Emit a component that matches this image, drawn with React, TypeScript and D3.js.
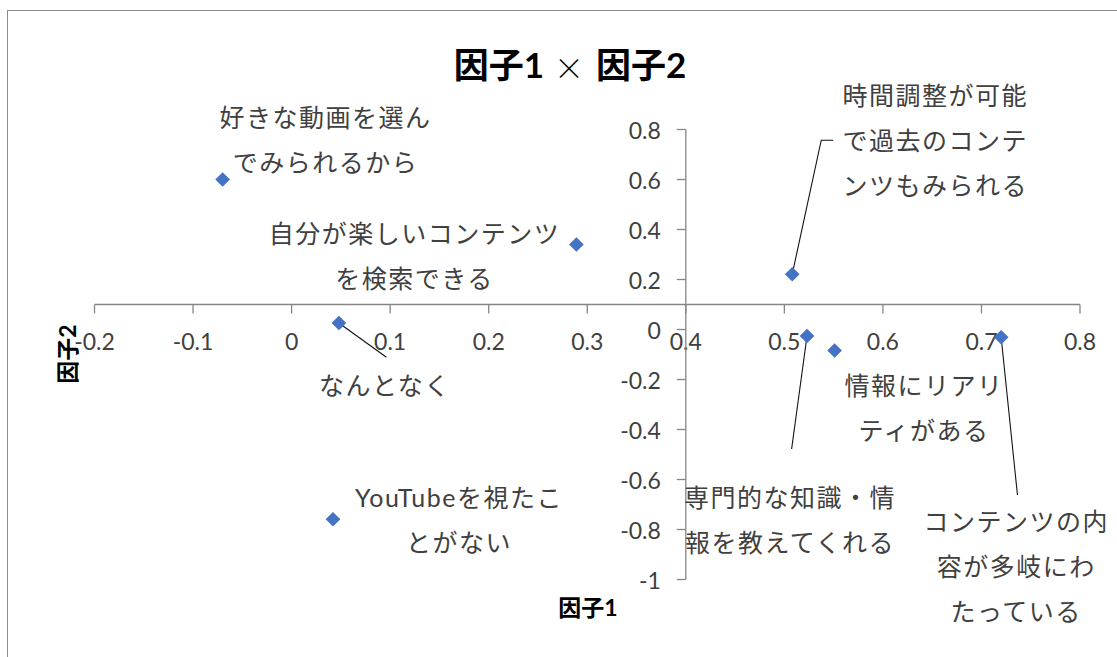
import React from "react";
import * as d3 from "d3";

const W = 1117;
const H = 657;

// Factor loadings of each reason for watching YouTube
const items = [
  "好きな動画を選んでみられるから",
  "自分が楽しいコンテンツを検索できる",
  "時間調整が可能で過去のコンテンツもみられる",
  "なんとなく",
  "専門的な知識・情報を教えてくれる",
  "情報にリアリティがある",
  "コンテンツの内容が多岐にわたっている",
  "YouTubeを視たことがない",
];
const labelLines = [
  ["好きな動画を選ん", "でみられるから"],
  ["自分が楽しいコンテンツ", "を検索できる"],
  ["時間調整が可能", "で過去のコンテ", "ンツもみられる"],
  ["なんとなく"],
  ["専門的な知識・情", "報を教えてくれる"],
  ["情報にリアリ", "ティがある"],
  ["コンテンツの内", "容が多岐にわ", "たっている"],
  ["YouTubeを視たこ", "とがない"],
];
const factor1 = [-0.07, 0.289, 0.508, 0.048, 0.523, 0.551, 0.72, 0.042];
const factor2 = [0.6, 0.34, 0.221, 0.026, -0.026, -0.084, -0.031, -0.759];

const xTicks = [-0.2, -0.1, 0, 0.1, 0.2, 0.3, 0.4, 0.5, 0.6, 0.7, 0.8];
const xTickLabels = ["-0.2", "-0.1", "0", "0.1", "0.2", "0.3", "0.4", "0.5", "0.6", "0.7", "0.8"];
const yTicks = [0.8, 0.6, 0.4, 0.2, 0, -0.2, -0.4, -0.6, -0.8, -1];
const yTickLabels = ["0.8", "0.6", "0.4", "0.2", "0", "-0.2", "-0.4", "-0.6", "-0.8", "-1"];

const titleLeft = "因子1";
const titleSep = "×";
const titleRight = "因子2";
const xTitle = "因子1";
const yTitle = "因子2";

// Label placement relative to each marker (px): centre x, first line centre y
const labelOffsets: [number, number][] = [
  [103, -62.5],
  [-162, -11.5],
  [143, -179],
  [46, 62],
  [-17, 161],
  [89.5, 34.5],
  [15, 183.5],
  [126, -22.5],
];
// Leader line vertices relative to each marker (px)
const leaders: ([number, number][] | null)[] = [
  null,
  null,
  [[29, -134], [41, -134]],
  [[47.5, 34.3]],
  [[-15.4, 113]],
  null,
  [[16.3, 157.8]],
  null,
];

const LINE_GAP = 45;
const FONT = "Lato, 'Noto Sans CJK JP', sans-serif";

export default function App() {
  const x = d3.scaleLinear().domain([-0.2, 0.8]).range([94.5, 1080]);
  const y = d3.scaleLinear().domain([-1, 0.8]).range([579.5, 129.5]);
  const xCross = 0.4; // vertical axis position on factor 1
  const yCross = 0.1; // horizontal axis position on factor 2
  const axisColor = "#868686";
  const diamond = d3.symbol().type(d3.symbolSquare).size(108)() as string;
  const line = d3.line();

  return (
    <div style={{ position: "absolute", left: 0, top: 0, width: W, height: H, overflow: "hidden", background: "#fff" }}>
      <svg width={W} height={H} style={{ display: "block" }} fontFamily={FONT}>
        <rect x={0} y={0} width={W} height={H} fill="#fff" />
        <rect x={7.5} y={10.5} width={1300} height={800} fill="none" stroke="#8c8c8c" strokeWidth={1} />

        {/* chart title */}
        <g fill="#000">
          <text x={544} y={64} textAnchor="end" dominantBaseline="central" fontSize={35} fontWeight="bold">
            {titleLeft}
          </text>
          <text
            x={569}
            y={66}
            textAnchor="middle"
            dominantBaseline="central"
            fontSize={30}
            fontWeight={300}
            fontFamily="'Noto Sans CJK JP', sans-serif"
          >
            {titleSep}
          </text>
          <text x={596} y={64} textAnchor="start" dominantBaseline="central" fontSize={35} fontWeight="bold">
            {titleRight}
          </text>
        </g>

        {/* horizontal axis */}
        <g>
          <line x1={x(-0.2)} x2={x(0.8)} y1={y(yCross)} y2={y(yCross)} stroke={axisColor} strokeWidth={1.3} />
          {xTicks.map((t, i) => (
            <g key={"xt" + i}>
              <line x1={x(t)} x2={x(t)} y1={y(yCross)} y2={y(yCross) + 9} stroke={axisColor} strokeWidth={1.3} />
              <text x={x(t)} y={y(yCross) + 36} textAnchor="middle" dominantBaseline="central" fontSize={23} fill="#404040">
                {xTickLabels[i]}
              </text>
            </g>
          ))}
        </g>

        {/* vertical axis */}
        <g>
          <line x1={x(xCross)} x2={x(xCross)} y1={y(0.8)} y2={y(-1)} stroke={axisColor} strokeWidth={1.3} />
          {yTicks.map((t, i) => (
            <g key={"yt" + i}>
              <line x1={x(xCross) - 9} x2={x(xCross)} y1={y(t)} y2={y(t)} stroke={axisColor} strokeWidth={1.3} />
              <text x={x(xCross) - 25} y={y(t)} textAnchor="end" dominantBaseline="central" fontSize={23} fill="#404040">
                {yTickLabels[i]}
              </text>
            </g>
          ))}
        </g>

        <text x={588} y={607} textAnchor="middle" dominantBaseline="central" fontSize={23} fontWeight="bold" fill="#000">
          {xTitle}
        </text>
        <text
          transform={`translate(67,354) rotate(-90)`}
          textAnchor="middle"
          dominantBaseline="central"
          fontSize={23}
          fontWeight="bold"
          fill="#000"
        >
          {yTitle}
        </text>

        {/* leader lines */}
        {items.map((_, i) => {
          const pts = leaders[i];
          if (!pts) return null;
          const px = x(factor1[i]);
          const py = y(factor2[i]);
          const path = line([[px, py], ...pts.map(([dx, dy]) => [px + dx, py + dy] as [number, number])]);
          return <path key={"ld" + i} d={path || ""} fill="none" stroke="#111" strokeWidth={1.1} />;
        })}

        {/* markers */}
        {items.map((name, i) => (
          <path
            key={"pt" + i}
            d={diamond}
            transform={`translate(${x(factor1[i])},${y(factor2[i])}) rotate(45)`}
            fill="#4472C4"
          >
            <title>{name}</title>
          </path>
        ))}

        {/* data labels */}
        {items.map((_, i) => {
          const cx = x(factor1[i]) + labelOffsets[i][0];
          const cy = y(factor2[i]) + labelOffsets[i][1];
          return (
            <g key={"lb" + i}>
              {labelLines[i].map((s, j) => (
                <text
                  key={j}
                  x={cx}
                  y={cy + j * LINE_GAP}
                  textAnchor="middle"
                  dominantBaseline="central"
                  fontSize={25}
                  letterSpacing={1.5}
                  fill="#404040"
                >
                  {s}
                </text>
              ))}
            </g>
          );
        })}
      </svg>
    </div>
  );
}
